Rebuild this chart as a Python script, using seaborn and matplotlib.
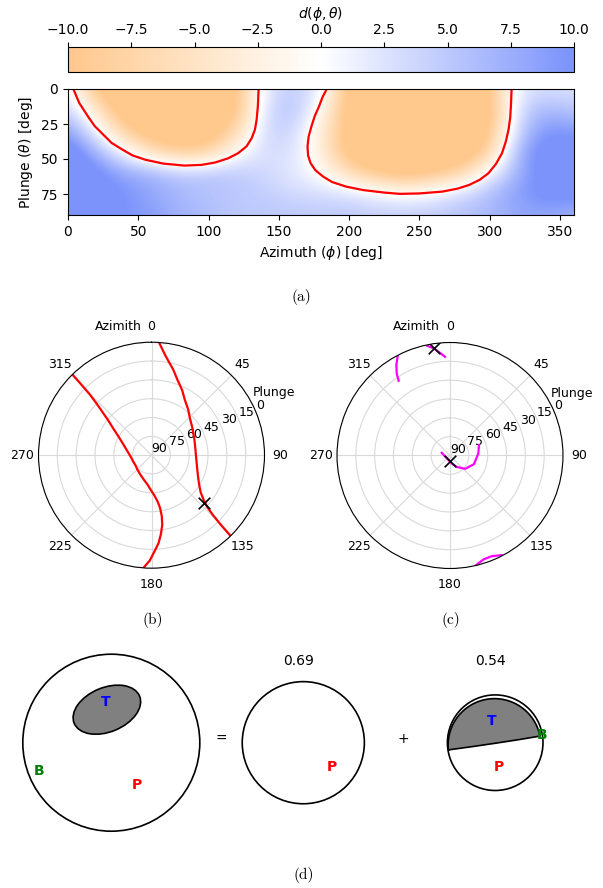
import numpy as np
import matplotlib
matplotlib.use("Agg")
import matplotlib.pyplot as plt
import seaborn as sns
from matplotlib.colors import LinearSegmentedColormap
from matplotlib.patches import Circle, Ellipse, Polygon

# ---- data ----
phi_grid = [0, 20, 40, 60, 80, 100, 120, 140, 160, 180, 200, 220, 240, 260, 280, 300, 320, 340, 360]
theta_grid = [0, 15, 30, 45, 60, 75, 90]
d_th0 = [1.5, -11, -15, -16, -16, -15, -11, 2, 5, 2, -12, -16, -17, -17, -15, -11, 2, 3, 2.5]
d_th15 = [4, -4, -13, -16, -16, -15, -11, 3, 6, -1, -12, -16, -17, -17, -16, -12, 3, 7, 5]
d_th30 = [9, 0.9, -8, -13, -14, -13, -7, 4, 4, -3, -12, -16, -17, -17, -15, -11, 4, 10, 9]
d_th45 = [13, 7, 0.5, -6, -9, -8, -0.5, 3, 3, -3, -12, -15, -16, -16, -14, -8, 7, 12, 12]
d_th60 = [14, 11, 8, 7.2, 5, 5.5, 5, 3.5, 2, -0.2, -6, -10, -12, -10, -7, 0.6, 7, 12, 12]
d_th75 = [13, 12, 10, 8, 6.5, 5.5, 5, 4.5, 3.5, 3, 2.8, 1.4, 0.1, 1, 3.6, 6, 9, 11, 11]
d_th90 = [11, 11, 10, 9, 7, 6, 5, 5, 5, 5, 5, 4.5, 4.5, 5, 5.5, 6.5, 8, 8, 7]

# zero contours of d(phi, theta)
c1_phi = [3.8, 8, 14.2, 19, 25.2, 31, 38.9, 46, 55.3, 68, 82.7, 95, 104.7, 114, 121.1,
          127, 130.7, 133, 134.2, 135.1, 135.6]
c1_theta = [0, 10, 19.6, 26.5, 32.7, 38.5, 43.4, 47.5, 50.6, 53.3, 54.7, 54.2, 52.5, 49.5,
            45.8, 41, 35.1, 29, 22, 12, 0]
c2_phi = [184.1, 181, 178.6, 175.5, 173.2, 171.2, 170.4, 170.8, 172.6, 176, 181.4, 188, 197.8,
          210, 225.2, 236.2, 250, 266.3, 277, 285.5, 293, 299.2, 304.5, 308.8, 311.5, 313.4,
          314.6, 315.1, 315.6]
c2_theta = [0, 6, 12.4, 19.5, 26.7, 34, 41, 47.5, 53, 58, 62.5, 66.5, 69.7, 72.2, 74, 74.9,
            74.6, 73.3, 71.2, 68.5, 64.8, 60.1, 53.5, 45.8, 37.5, 29.1, 20.5, 12.4, 0]

# markers and curves in panel (b) / (c)
b_x_az = [132.0]
b_x_pl = [33.4]
c_x_az = [351.5, 180.0]
c_x_pl = [3.8, 85.6]
segA_az = [348.3, 351.5, 354.4, 357.1]
segA_pl = [0.8, 3.8, 7.8, 11.3]
segB_az = [332.2, 329.3, 327.0, 325.5]
segB_pl = [0.6, 6.3, 12.1, 17.8]
segC_az = [166.7, 162.2, 157.5, 152.6]
segC_pl = [0.2, 3.0, 3.2, 0.6]
segD_az = [288, 168.2, 149.5, 131.6, 109.9, 86, 70.4]
segD_pl = [83.1, 83.5, 79.5, 74, 69.7, 67.4, 65.5]

az_ticks = [0, 45, 90, 135, 180, 225, 270, 315]
plunge_ticks = [0, 15, 30, 45, 60, 75, 90]
cbar_ticks = [-10, -7.5, -5, -2.5, 0, 2.5, 5, 7.5, 10]

# beach balls (coords in units of each ball's radius)
ball_frac = [1.0, 0.69, 0.54]
ball_labels = ["", "0.69", "0.54"]
t_lobe_center = (-0.05, 0.373)
t_lobe_axes = (0.80, 0.50)
t_lobe_angle = 22.6
right_arc_center = (-0.015, -0.048)
right_arc_r = 0.97
right_arc_deg = (11.1, 186.1)
right_nodal_x = [-0.983, -0.5, 0.0, 0.5, 0.942]
right_nodal_y = [-0.151, -0.085, -0.012, 0.065, 0.139]
ball_letters = [
    [("T", -0.068, 0.456), ("B", -0.817, -0.316), ("P", 0.287, -0.478)],
    [("P", 0.466, -0.402)],
    [("T", -0.072, 0.455), ("P", 0.079, -0.509), ("B", 0.975, 0.166)],
]
letter_colors = {"T": "blue", "P": "red", "B": "green"}

# ---- layout helpers (pixel coordinates of a 603x888 canvas) ----
W, H = 603, 888
fig = plt.figure(figsize=(W / 100, H / 100), dpi=100)


def box(x0, y0, x1, y1):
    return [x0 / W, 1 - y1 / H, (x1 - x0) / W, (y1 - y0) / H]


def fpos(x, y):
    return x / W, 1 - y / H


serif = dict(fontfamily="cmr10", fontsize=11, ha="center", va="center")

# ---- (a) heat map ----
d_grid = np.array([d_th0, d_th15, d_th30, d_th45, d_th60, d_th75, d_th90])
cmap = LinearSegmentedColormap.from_list("orange_blue", ["#ffc88c", "#ffffff", "#7b93fb"])
dp = phi_grid[1] - phi_grid[0]
dt = theta_grid[1] - theta_grid[0]

ax = fig.add_axes(box(68, 89, 574, 215))
im = ax.imshow(d_grid, cmap=cmap, vmin=-10, vmax=10, interpolation="bicubic", aspect="auto",
               extent=[phi_grid[0] - dp / 2, phi_grid[-1] + dp / 2,
                       theta_grid[-1] + dt / 2, theta_grid[0] - dt / 2])
sns.lineplot(x=c1_phi, y=c1_theta, sort=False, estimator=None, color="red", lw=1.6, ax=ax)
sns.lineplot(x=c2_phi, y=c2_theta, sort=False, estimator=None, color="red", lw=1.6, ax=ax)
ax.set_xlim(0, 360)
ax.set_ylim(90, 0)
ax.set_xticks(range(0, 360, 50))
ax.set_yticks([0, 25, 50, 75])
ax.set_xlabel(r"Azimuth ($\phi$) [deg]")
ax.set_ylabel(r"Plunge ($\theta$) [deg]")

cax = fig.add_axes(box(68, 47, 574, 72.3))
cb = fig.colorbar(im, cax=cax, orientation="horizontal", ticks=cbar_ticks)
cax.xaxis.set_ticks_position("top")
cax.xaxis.set_label_position("top")
cb.set_label(r"$d(\phi, \theta)$")
fig.text(*fpos(301, 297), "(a)", **serif)


# ---- (b), (c) polar plots ----
def polar_panel(cx, cy, r=113):
    pax = fig.add_axes(box(cx - r, cy - r, cx + r, cy + r), projection="polar")
    pax.set_theta_zero_location("N")
    pax.set_theta_direction(-1)
    pax.set_thetagrids(az_ticks, labels=[str(a) for a in az_ticks])
    pax.tick_params(labelsize=9)
    pax.tick_params(axis="x", pad=1)
    pax.grid(color="#d9d9d9", lw=0.8)
    fig.text(*fpos(cx - 33.2, cy - 129.2), "Azimith", fontsize=9, ha="center", va="center")
    fig.text(*fpos(cx + 122.5, cy - 62.5), "Plunge", fontsize=9, ha="center", va="center")
    return pax


def finish_polar(pax):
    pax.set_ylim(90, 0)
    pax.set_rticks(plunge_ticks)
    pax.set_rlabel_position(67.5)
    pax.set_xlabel("")
    pax.set_ylabel("")


bax = polar_panel(151.5, 455.2)
sns.lineplot(x=np.deg2rad(c1_phi), y=c1_theta, sort=False, estimator=None, color="red",
             lw=1.6, ax=bax)
sns.lineplot(x=np.deg2rad(c2_phi), y=c2_theta, sort=False, estimator=None, color="red",
             lw=1.6, ax=bax)
sns.scatterplot(x=np.deg2rad(b_x_az), y=b_x_pl, marker="x", s=70, color="black",
                linewidth=1.2, ax=bax, zorder=5)
finish_polar(bax)
fig.text(*fpos(153, 620), "(b)", **serif)

cpx = polar_panel(450, 455.5)
for az, pl in [(segA_az, segA_pl), (segB_az, segB_pl), (segC_az, segC_pl), (segD_az, segD_pl)]:
    sns.lineplot(x=np.deg2rad(az), y=pl, sort=False, estimator=None, color="magenta",
                 lw=1.6, ax=cpx)
sns.scatterplot(x=np.deg2rad(c_x_az), y=c_x_pl, marker="x", s=70, color="black",
                linewidth=1.2, ax=cpx, zorder=5)
finish_polar(cpx)
fig.text(*fpos(451, 620), "(c)", **serif)

# ---- (d) beach balls ----
R = 88.5
ball_cx = [111.3, 303.3, 495.2]
ball_cy = 742.7
half = 100
for i, frac in enumerate(ball_frac):
    cx = ball_cx[i]
    bx = fig.add_axes(box(cx - half, ball_cy - half, cx + half, ball_cy + half))
    bx.set_xlim(-half / R, half / R)
    bx.set_ylim(-half / R, half / R)
    bx.axis("off")
    bx.patch.set_alpha(0)
    bx.add_patch(Circle((0, 0), frac, facecolor="white", edgecolor="black", lw=1.2, zorder=1))
    if i == 0:
        bx.add_patch(Ellipse((t_lobe_center[0] * frac, t_lobe_center[1] * frac),
                             t_lobe_axes[0] * frac, t_lobe_axes[1] * frac, angle=t_lobe_angle,
                             facecolor="#808080", edgecolor="black", lw=1.2, zorder=2))
    if i == 2:
        ang = np.deg2rad(np.linspace(right_arc_deg[0], right_arc_deg[1], 80))
        arc_x = right_arc_center[0] + right_arc_r * np.cos(ang)
        arc_y = right_arc_center[1] + right_arc_r * np.sin(ang)
        verts = np.column_stack([np.concatenate([arc_x, right_nodal_x]),
                                 np.concatenate([arc_y, right_nodal_y])]) * frac
        bx.add_patch(Polygon(verts, closed=True, facecolor="#808080", edgecolor="black",
                             lw=1.2, zorder=2))
    for letter, lx, ly in ball_letters[i]:
        bx.text(lx * frac, ly * frac, letter, color=letter_colors[letter], fontsize=10,
                fontweight="bold", ha="center", va="center", zorder=3)
    if ball_labels[i]:
        bx.text(-0.055, 0.927, ball_labels[i], fontsize=10, ha="center", va="center")

fig.text(*fpos(221.7, 739), "=", fontsize=10, ha="center", va="center")
fig.text(*fpos(403.3, 739), "+", fontsize=10, ha="center", va="center")
fig.text(*fpos(303.8, 875), "(d)", **serif)

fig.savefig("out.png", dpi=100)
